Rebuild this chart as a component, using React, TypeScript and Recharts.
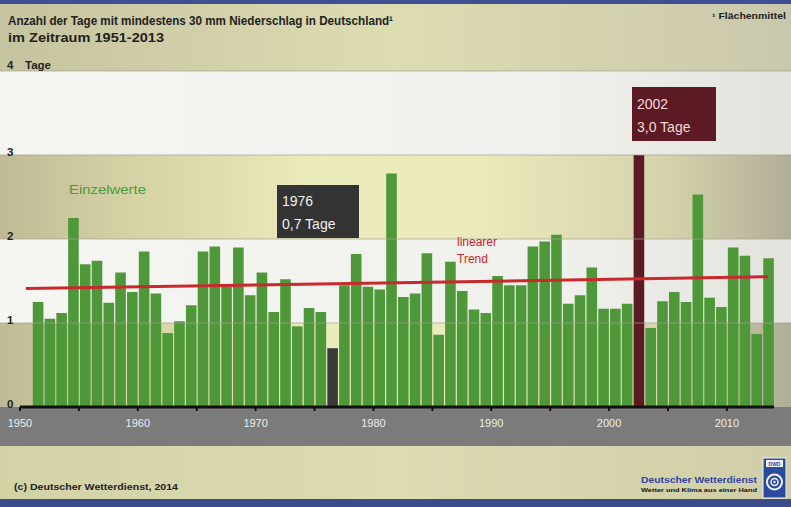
import React from "react";
import {
  ComposedChart, Bar, Cell, Line, XAxis, YAxis, ReferenceArea, ReferenceLine
} from "recharts";

const years = [
  1951, 1952, 1953, 1954, 1955, 1956, 1957, 1958, 1959, 1960,
  1961, 1962, 1963, 1964, 1965, 1966, 1967, 1968, 1969, 1970,
  1971, 1972, 1973, 1974, 1975, 1976, 1977, 1978, 1979, 1980,
  1981, 1982, 1983, 1984, 1985, 1986, 1987, 1988, 1989, 1990,
  1991, 1992, 1993, 1994, 1995, 1996, 1997, 1998, 1999, 2000,
  2001, 2002, 2003, 2004, 2005, 2006, 2007, 2008, 2009, 2010,
  2011, 2012, 2013,
];

// Tage mit >= 30 mm Niederschlag (Flaechenmittel)
const tage = [
  1.25, 1.05, 1.12, 2.25, 1.70, 1.74, 1.24, 1.60, 1.37, 1.85,
  1.35, 0.88, 1.02, 1.21, 1.85, 1.91, 1.43, 1.90, 1.33, 1.60,
  1.13, 1.52, 0.96, 1.18, 1.13, 0.70, 1.45, 1.82, 1.43, 1.40,
  2.78, 1.31, 1.35, 1.83, 0.86, 1.73, 1.38, 1.16, 1.12, 1.56,
  1.45, 1.45, 1.91, 1.97, 2.05, 1.23, 1.33, 1.66, 1.17, 1.17,
  1.23, 3.00, 0.94, 1.26, 1.37, 1.25, 2.53, 1.30, 1.19, 1.90,
  1.80, 0.87, 1.77,
];

// linearer Trend, Anfang und Ende
const trendYears = [1950.5, 2013.5];
const trendValues = [1.41, 1.55];

const yTicks = [0, 1, 2, 3, 4];
const xTicks = [1950, 1955, 1960, 1965, 1970, 1975, 1980, 1985, 1990, 1995, 2000, 2005, 2010];

const GREEN = "#4e983a";
const GRAY = "#3a3a3a";
const MAROON = "#5b1a24";
const RED = "#c9282c";
const FONT = "'Liberation Sans', Arial, sans-serif";

const rows = years.map((y, i) => ({ x: y + 0.5, year: y, tage: tage[i] }));
const trendRows = trendYears.map((x, i) => ({ x, trend: trendValues[i] }));

const barColor = (y: number) => (y === 1976 ? GRAY : y === 2002 ? MAROON : GREEN);

const YTick = (props: any) => {
  const { y, payload } = props;
  const base = payload.value === 4 ? y - 2 : y + 1;
  return (
    <text x={7} y={base} fontSize={11.5} fontWeight="bold" fill="#222" fontFamily={FONT}>
      <tspan>{payload.value}</tspan>
      {payload.value === 4 && <tspan x={25}>Tage</tspan>}
    </text>
  );
};

export default function App() {
  return (
    <div style={{ position: "absolute", left: 0, top: 0, width: 791, height: 507, overflow: "hidden", fontFamily: FONT }}>
      <div style={{ position: "absolute", left: 0, top: 407, width: 791, height: 39, background: "#7b7b7b" }} />
      <div style={{ position: "absolute", left: 0, top: 446, width: 791, height: 53,
        background: "linear-gradient(90deg, #d3d1a6 0%, #dcdbb2 50%, #cfcea8 100%)" }} />
      <div style={{ position: "absolute", left: 0, top: 499, width: 791, height: 8, background: "#3c4b8c" }} />

      <div style={{ position: "absolute", left: 0, top: 0 }}>
        <ComposedChart width={791} height={507} data={rows} margin={{ top: 0, right: 0, bottom: 70, left: 0 }}>
          <defs>
            <linearGradient id="khaki" x1="0" y1="0" x2="1" y2="0">
              <stop offset="0" stopColor="#bfba96" />
              <stop offset="0.15" stopColor="#d3d0a4" />
              <stop offset="0.4" stopColor="#ecebbc" />
              <stop offset="0.6" stopColor="#ebeabb" />
              <stop offset="0.85" stopColor="#d4d2ab" />
              <stop offset="1" stopColor="#b1ae97" />
            </linearGradient>
            <linearGradient id="titleband" x1="0" y1="0" x2="1" y2="0">
              <stop offset="0" stopColor="#c6c3a0" />
              <stop offset="0.5" stopColor="#dddcb1" />
              <stop offset="1" stopColor="#cac8ac" />
            </linearGradient>
            <linearGradient id="whiteband" x1="0" y1="0" x2="1" y2="0">
              <stop offset="0" stopColor="#f5f5f2" />
              <stop offset="0.7" stopColor="#f0f0ec" />
              <stop offset="1" stopColor="#e3e3de" />
            </linearGradient>
          </defs>
          <ReferenceArea y1={0} y2={1} fill="url(#khaki)" fillOpacity={1} stroke="none" />
          <ReferenceArea y1={1} y2={2} fill="url(#whiteband)" fillOpacity={1} stroke="none" />
          <ReferenceArea y1={2} y2={3} fill="url(#khaki)" fillOpacity={1} stroke="none" />
          <ReferenceArea y1={3} y2={4} fill="url(#whiteband)" fillOpacity={1} stroke="none" />
          <ReferenceArea y1={4} y2={4.845} fill="url(#titleband)" fillOpacity={1} stroke="none" />
          {[1, 2, 3, 4].map(v => (
            <ReferenceLine key={v} y={v} stroke="#a5a38d" strokeOpacity={0.7} strokeWidth={1} />
          ))}
          <XAxis
            dataKey="x"
            type="number"
            domain={[1948.302, 2015.443]}
            allowDataOverflow
            ticks={xTicks}
            tickFormatter={(v: number) => (v % 10 === 0 ? String(v) : "")}
            axisLine={false}
            tickLine={{ stroke: "#111", strokeWidth: 2 }}
            tickSize={4}
            tickMargin={8}
            height={30}
            tick={{ fill: "#ededed", fontSize: 11, fontFamily: FONT }}
          />
          <YAxis
            type="number"
            domain={[0, 4.845]}
            allowDataOverflow
            ticks={yTicks}
            mirror
            axisLine={false}
            tickLine={false}
            tick={<YTick />}
          />
          <Bar dataKey="tage" barSize={11.8} isAnimationActive={false}>
            {rows.map(r => (
              <Cell key={r.year} fill={barColor(r.year)} />
            ))}
          </Bar>
          <Line
            data={trendRows}
            dataKey="trend"
            stroke={RED}
            strokeWidth={3}
            dot={false}
            activeDot={false}
            isAnimationActive={false}
          />
          <ReferenceLine
            segment={[{ x: 1950, y: 0 }, { x: 2014, y: 0 }]}
            stroke="#111"
            strokeWidth={3}
          />
        </ComposedChart>
      </div>

      <svg width={791} height={507} style={{ position: "absolute", left: 0, top: 0, pointerEvents: "none" }}>
        <rect x={0} y={0} width={791} height={4} fill="#3f4f93" />
        <text x={8} y={25} fontSize={13} fontWeight="bold" fill="#222" fontFamily={FONT}
          textLength={385} lengthAdjust="spacingAndGlyphs">
          Anzahl der Tage mit mindestens 30 mm Niederschlag in Deutschland¹
        </text>
        <text x={8} y={42} fontSize={13} fontWeight="bold" fill="#222" fontFamily={FONT}
          textLength={156} lengthAdjust="spacingAndGlyphs">
          im Zeitraum 1951-2013
        </text>
        <text x={712} y={19} fontSize={8.5} fontWeight="bold" fill="#222" fontFamily={FONT}
          textLength={74} lengthAdjust="spacingAndGlyphs">
          ¹ Flächenmittel
        </text>

        <text x={69} y={194} fontSize={12} fill="#4f9a3c" fontFamily={FONT}
          textLength={77} lengthAdjust="spacingAndGlyphs">Einzelwerte</text>
        <text x={457} y={246} fontSize={12} fill={RED} fontFamily={FONT}>linearer</text>
        <text x={457} y={263} fontSize={12} fill={RED} fontFamily={FONT}>Trend</text>

        <rect x={277} y={185} width={82} height={53} fill="#333333" />
        <text x={282} y={206} fontSize={14} fill="#f0f0f0" fontFamily={FONT}>1976</text>
        <text x={282} y={229} fontSize={14} fill="#f0f0f0" fontFamily={FONT}>0,7 Tage</text>

        <rect x={632} y={87} width={84} height={54} fill={MAROON} />
        <text x={637} y={109} fontSize={14} fill="#f4d8da" fontFamily={FONT}>2002</text>
        <text x={637} y={132} fontSize={14} fill="#f4d8da" fontFamily={FONT}>3,0 Tage</text>

        <text x={14} y={490} fontSize={9} fontWeight="bold" fill="#222" fontFamily={FONT}
          textLength={164} lengthAdjust="spacingAndGlyphs">
          (c) Deutscher Wetterdienst, 2014
        </text>
        <text x={641} y={483} fontSize={9.5} fontWeight="bold" fill="#3344a0" fontFamily={FONT}
          textLength={116} lengthAdjust="spacingAndGlyphs">
          Deutscher Wetterdienst
        </text>
        <text x={641} y={492} fontSize={6} fontWeight="bold" fill="#111" fontFamily={FONT}
          textLength={116} lengthAdjust="spacingAndGlyphs">
          Wetter und Klima aus einer Hand
        </text>
        <rect x={763} y={458} width={23} height={40} fill="#2b4ba0" stroke="#f2f2f2" strokeWidth={1} />
        <rect x={766} y={460} width={17} height={7} fill="#f2f2f2" />
        <text x={774.5} y={466} fontSize={5} fontWeight="bold" fill="#2b4ba0" textAnchor="middle" fontFamily={FONT}>DWD</text>
        <circle cx={774.5} cy={482} r={7.5} fill="none" stroke="#f2f2f2" strokeWidth={2} />
        <circle cx={774.5} cy={482} r={3.5} fill="none" stroke="#f2f2f2" strokeWidth={1.5} />
        <circle cx={774.5} cy={482} r={1.2} fill="#f2f2f2" />
      </svg>
    </div>
  );
}
